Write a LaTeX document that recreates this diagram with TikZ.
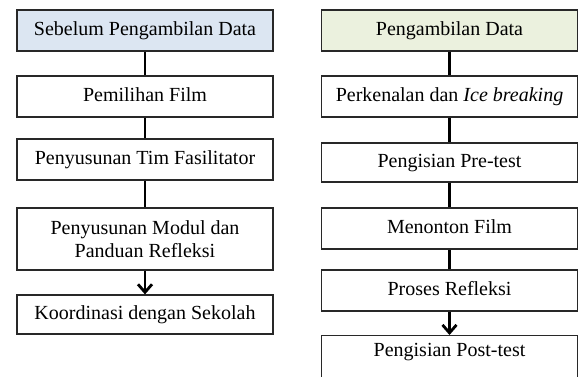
\documentclass[tikz,border=0pt]{standalone}
\usepackage{fontspec}
\setmainfont{Liberation Serif}
\usetikzlibrary{arrows.meta}
\definecolor{headblue}{RGB}{220,230,242}
\definecolor{headgreen}{RGB}{235,241,222}
\definecolor{edge}{RGB}{40,40,40}
\begin{document}
\begin{tikzpicture}[x=1pt,y=-1pt,
		box/.style={draw=edge,line width=1.2pt,fill=white,minimum width=256pt,minimum height=41pt,inner sep=4pt,align=center,font=\fontsize{20}{23}\selectfont},
		one/.style={text height=14pt,text depth=4pt},
		link/.style={line width=2.8pt,draw=black},
		arrow/.style={link,-{Straight Barb[length=8pt,width=14pt]}}]
			\path[use as bounding box] (0,0) rectangle (578,376);
			\clip (0,0) rectangle (578,376);
			% sebelum pengambilan data
			\node[box,one,fill=headblue] (sebelum) at (145,30.5) {Sebelum Pengambilan Data};
			\node[box,one] (film) at (145,96.5) {Pemilihan Film};
			\node[box,one] (tim) at (145,159.5) {Penyusunan Tim Fasilitator};
			\node[box,minimum height=62pt] (modul) at (145,239) {Penyusunan Modul dan\\Panduan Refleksi};
			\node[box,one,minimum height=39pt] (sekolah) at (145,314.5) {Koordinasi dengan Sekolah};
			% pengambilan data
			\node[box,one,fill=headgreen] (ambil) at (449.5,30.5) {Pengambilan Data};
			\node[box,one] (kenal) at (449.5,96.5) {Perkenalan dan \textit{Ice breaking}};
			\node[box,one,minimum height=39pt] (pre) at (449.5,162.5) {Pengisian Pre-test};
			\node[box,one] (nonton) at (449.5,228.5) {Menonton Film};
			\node[box,one] (refleksi) at (449.5,290.5) {Proses Refleksi};
			\node[box,anchor=north,text height=17pt,text depth=30pt] (post) at (449.5,335) {Pengisian Post-test};
			\draw[link] (sebelum) -- (film);
			\draw[link] (film) -- (tim);
			\draw[link] (tim) -- (modul);
			\draw[arrow] (modul) -- (sekolah);
			\draw[link] (ambil) -- (kenal);
			\draw[link] (kenal) -- (pre);
			\draw[link] (pre) -- (nonton);
			\draw[link] (nonton) -- (refleksi);
			\draw[arrow] (refleksi) -- (post);
		\end{tikzpicture}
\end{document}
